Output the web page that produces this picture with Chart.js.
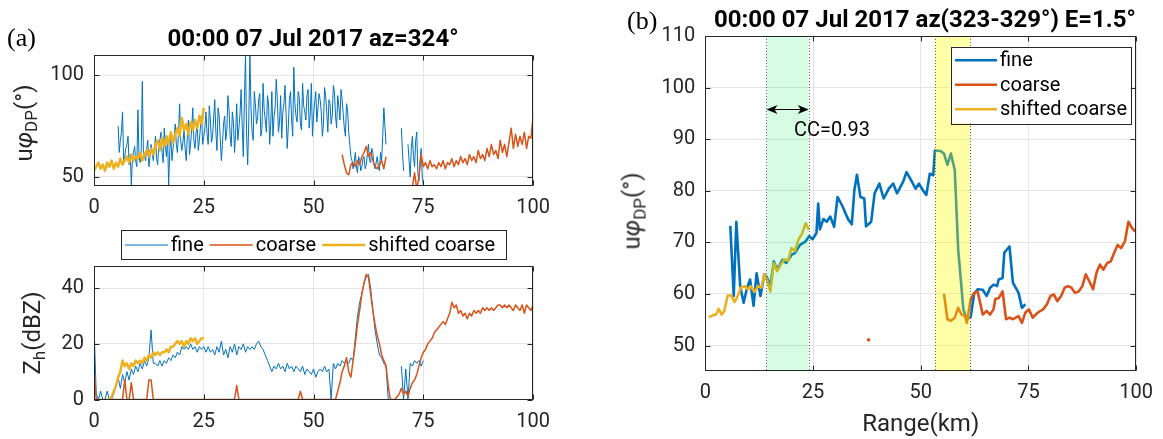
<!DOCTYPE html>
<html lang="en">
<head>
<meta charset="UTF-8">
<title>uPhiDP and Zh, 00:00 07 Jul 2017</title>
<script src="https://cdn.jsdelivr.net/npm/chart.js"></script>
<style>
  body { margin: 0; background: #fff; }
  #wrap { position: relative; width: 1163px; height: 439px; overflow: hidden; font-family: Roboto, sans-serif; }
  canvas { position: absolute; }
  .txt { position: absolute; white-space: nowrap; color: #000; line-height: 1; }
  .ttl { font-weight: bold; font-size: 24px; transform: translate(-50%, -50%); }
  .pan { font-family: 'Liberation Serif', serif; font-size: 26px; }
  .ylab { font-size: 24px; color: #262626; transform: translate(-50%, -50%) rotate(-90deg); }
  .ylab sub { font-size: 17px; }
</style>
</head>
<body>
<div id="wrap">
  <canvas id="cTop" width="560" height="220" style="left:0;top:0"></canvas>
  <canvas id="cZh" width="560" height="219" style="left:0;top:220px"></canvas>
  <canvas id="cB" width="583" height="439" style="left:580px;top:0"></canvas>

  <div class="txt pan" style="left:7px;top:25px">(a)</div>
  <div class="txt ttl" style="left:313px;top:38px">00:00 07 Jul 2017 az=324°</div>
  <div class="txt ylab" style="left:26px;top:123px">u<i>φ</i><sub>DP</sub>(°)</div>
  <div class="txt ylab" style="left:34px;top:333px">Z<sub>h</sub>(dBZ)</div>

  <div class="txt pan" style="left:627px;top:8px">(b)</div>
  <div class="txt ttl" style="left:925px;top:19px">00:00 07 Jul 2017 az(323-329°) E=1.5°</div>
  <div class="txt ylab" style="left:634px;top:211px">u<i>φ</i><sub>DP</sub>(°)</div>
</div>

<script>
// ---- data (a): single-ray profiles on regular range gates ----
const fineTopStart = 5.5, fineTopStep = 0.25;
const fineTop = [
  75, 62, 68, 72, 82, 58, 60, 64, 66, 70,
  56, 61, 46, 59, 62, 65, 58, 55, 83, 60,
  57, 63, 97, 62, 60, 58, 64, 68, 55, 60,
  66, 62, 58, 64, 70, 59, 56, 66, 68, 72,
  62, 57, 74, 65, 60, 70, 46, 63, 70, 58,
  64, 69, 76, 66, 62, 72, 86, 68, 63, 67,
  73, 64, 58, 70, 78, 61, 66, 74, 84, 68,
  64, 72, 76, 63, 68, 75, 80, 66, 70,
  74, 82, 71, 66, 85, 78, 67, 70, 79, 88,
  72, 63, 84, 80, 69, 58, 66, 76, 80, 68,
  73, 90, 83, 70, 65, 82, 77, 62, 71, 86,
  68, 74, 81, 93, 75, 60, 88, 110, 70, 56,
  78, 110, 84, 72, 68, 92, 86, 76, 79, 88,
  91, 70, 74, 96, 83, 78, 72, 90, 86, 66,
  76, 92, 70, 80, 84, 98, 88, 72, 77, 90,
  69, 82, 86, 95, 80, 64, 75, 88, 92, 78,
  70, 104, 86, 80, 77, 92, 89, 76, 73, 96,
  85, 82, 78, 90, 93, 74, 81, 96, 70, 80,
  87, 92, 77, 84, 91, 88, 82, 70, 76, 94,
  90, 82, 72, 88, 86, 76, 80, 95, 92, 80,
  74, 90, 85, 78, 93, 88, 81, 74, 70, 86,
  83, 72, 66, 60,
  58, 54, 57, 62, 55, 52, 60, 58, 53, 55, 59, 60, 54, 56, 61, 66,
  58, 57, 64, 62, 56, 54, 57, 60, 55, 53, 62, 58, 70, 84, 75, 66,
  null, null, null, null, null, null, null, null, null, null, null, null, null,
  74, 62, 53, null, null, null, 66, 58, 50, 64, 70, 60, 55, 68, 72, 52, 48, 58, 64, 50, 46
];

const gateStep = 0.5;

const coarseTopStart = 56.5;
const coarseTop = [
  61, 56, 52, 51, 56, 57, 55, 58, 56, 60, 62, 65, 60, 62, 58, 55, 54, 56, 58, 54, 60,
  null, null, null, null, null, null, null, null, null, null, null,
  45, 52, 44, 50, 61,
  55, 57, 54, 58, 55, 56, 54, 57, 55, 58, 54, 57, 56, 59, 55, 58, 56, 60, 57, 59,
  56, 61, 58, 60, 57, 63, 59, 61, 58, 64, 60, 66, 61, 63, 59, 68, 62, 66, 60, 67,
  74, 64, 71, 65, 70, 66, 72, 64, 70, 69, 80
];

const shiftTopStart = 0;
const shiftTop = [
  53, 55, 57, 54, 56, 53, 57, 55, 58, 54, 57, 55, 59, 56, 58, 60, 57, 61, 58, 60,
  59, 62, 58, 61, 63, 60, 64, 61, 66, 68, 63, 69, 65, 70, 66, 72, 67, 71, 74, 70,
  79, 73, 76, 71, 77, 73, 78, 74, 80, 76, 84
];

const fineZhStart = 0;
const fineZh = [
  27, 2, 0, 3, 0, 0, 3, 0, 0, 2,
  5, 8, 4, 9, 6, 10, 7, 11, 9, 12, 10, 13, 11, 14, 12, 15, 25, 13,
  13, 12, 14, 12, 14, 13, 15, 14, 16, 15, 17, 16, 19,
  18, 19, 18, 20, 18, 19, 17, 19, 18, 19, 17, 19, 17, 18, 16, 19, 17, 21, 16, 18,
  15, 19, 17, 20, 16, 19, 18, 20, 17, 19, 18, 19, 18, 20, 21, 19, 18, 16,
  14, 12, 10, 12, 11, 13, 11, 12, 10, 13, 11, 12, 10, 12, 11, 10, 12, 9, 11, 10,
  9, 11, 8, 10, 11, 10, 12, 10, 11,
  0, 13, 11, 13, 12, 14, 13, 14, 13, 15, 14, 22, 30, 35, 38, 42, 44, 45, 40, 32,
  25, 20, 16, 15, 13, 12, 0,
  null, null, null, null, null,
  12, 0, 11, 0, 13, 12, 14, 13, 14, 12, 14
];

const coarseZhStart = 0;
const coarseZh = [
  11, 0, 0, 0, 0, 0, 0, 0, 0, 0, 0, 0, 0, 0,
  7, 0, 0, 6, 0, 0, 0, 0, 0, 0, 0, 7, 7, 0,
  0, 0, 0, 0, 0, 0, 0, 0, 0, 0, 0, 0, 0, 0, 0, 0, 0, 0, 0, 0,
  0, 0, 0, 0, 0, 0, 0, 0, 0, 0, 0, 0, 0, 0, 0, 0, 0,
  5,
  0, 0, 0, 0, 0, 0, 0, 0, 0, 0, 0, 0, 0, 0, 0, 0, 0, 0, 0, 0,
  0, 0, 0, 0, 0, 0, 0, 0,
  3,
  0, 0, 0, 0, 0, 0, 0, 0, 0, 0, 0, 0, 0, 0, 0, 0,
  3, 6, 10, 12, 15, 10, 8, 14, 20, 27, 32, 38, 42, 45, 44, 38, 32, 27, 23, 20,
  16, 14, 12, 5,
  0, 0, 0, 1, 2, 4, 2, 3, 1, 4, 6, 7, 9, 12, 15, 17, 18, 20, 21, 22,
  24, 25, 26, 27, 28, 27, 29, 31, 35, 33, 34, 31, 32, 30, 31, 29, 31, 30, 32, 31,
  32, 31, 33, 32, 33, 32, 33, 32, 33, 34, 34, 33, 34, 33, 34, 33, 32, 34, 33, 32,
  34, 31, 34, 33, 32, 34
];

const shiftZhStart = 3.5;
const shiftZh = [
  0, 1, 3, 5, 8, 10, 14, 12, 13, 11, 13, 12, 14, 13, 14, 13, 15, 14, 16, 15,
  17, 16, 17, 16, 17, 17, 18, 17, 19, 19, 20, 21, 20, 21, 19, 21, 20, 22, 21, 22,
  20, 21, 22, 22
];

// ---- data (b): azimuth-averaged profiles ----
const fineBKm = [
  5.8, 6.6, 7.2, 8.1, 8.9, 9.7, 10.4, 11.2, 11.9, 12.8, 13.7, 14.3, 15.1, 15.9, 16.7, 17.9, 18.8, 20.0, 20.8, 22.0,
  23.3, 24.1, 24.9, 25.8, 26.2, 26.6, 27.4, 28.2, 29.0, 29.9, 30.7, 31.9, 32.6, 33.2, 34.0, 34.6, 35.2, 36.0, 36.9, 37.3,
  38.5, 39.3, 40.4, 41.4, 42.6, 43.6, 44.5, 45.9, 46.7, 48.0, 48.8, 49.6, 50.5, 51.3, 52.1, 52.9, 53.3, 54.6, 55.4, 56.2,
  57.0, 57.9, 58.7, 59.9, 60.7, 61.6, 62.4, 63.2, 64.4, 65.3, 66.1, 66.9, 67.7, 68.1, 69.0, 69.4, 70.2, 70.6, 71.4, 72.7,
  73.5, 74.3
];
const fineB = [
  73.2, 59.6, 74.0, 61.5, 58.3, 61.2, 62.8, 57.7, 64.0, 59.6, 63.8, 63.2, 61.5, 66.3, 64.7, 66.6, 66.0, 67.6, 67.9, 69.5,
  70.2, 71.2, 70.6, 71.8, 77.5, 72.5, 74.5, 74.0, 75.0, 73.0, 78.8, 76.9, 75.5, 74.4, 73.5, 80.1, 83.1, 78.8, 78.5, 73.1,
  74.0, 79.5, 81.4, 78.5, 80.4, 81.4, 79.5, 81.7, 83.6, 81.7, 80.4, 81.4, 80.1, 79.2, 83.3, 83.0, 87.8, 87.7, 87.2, 85.0,
  87.2, 84.0, 68.6, 57.0, 55.1, 55.5, 60.0, 60.9, 60.8, 59.6, 61.2, 61.8, 61.5, 62.8, 63.1, 68.0, 68.8, 69.2, 62.2, 60.2,
  57.3, 58.0
];

const coarseBKm = [
  55.4, 56.2, 57.0, 57.9, 58.7, 59.5, 60.3, 60.7, 61.6, 62.4, 63.2, 64.4, 65.3, 66.1, 66.9, 67.3, 68.1, 69.0, 69.8, 70.6,
  71.4, 72.7, 73.5, 74.3, 75.1, 76.0, 77.2, 78.4, 79.3, 80.1, 80.9, 81.7, 82.6, 83.4, 84.2, 85.0, 85.8, 86.7, 87.5, 88.3,
  89.1, 90.0, 90.8, 91.6, 92.4, 93.3, 94.1, 94.9, 95.7, 96.5, 97.4, 98.2, 99.0, 99.8
];
const coarseB = [
  60.0, 55.1, 54.8, 55.4, 57.3, 56.0, 55.7, 54.4, 59.0, 60.2, 60.5, 56.0, 56.7, 56.0, 57.0, 59.0, 59.2, 60.5, 55.1, 55.4,
  55.1, 55.7, 54.4, 56.4, 57.0, 55.4, 56.4, 57.0, 58.0, 59.6, 59.9, 58.6, 59.6, 61.2, 61.5, 61.2, 60.2, 60.5, 61.5, 63.8,
  62.5, 60.9, 64.1, 65.7, 64.7, 66.0, 66.3, 68.0, 69.5, 68.9, 70.2, 74.0, 72.8, 72.1
];
const coarseDotKm = [37.9];
const coarseDot = [51.1];

const shiftBKm = [
  0.8, 1.6, 2.5, 3.1, 3.8, 4.4, 5.2, 6.0, 6.8, 7.7, 8.2, 9.1, 9.9, 10.5, 11.4, 12.2, 13.0, 13.7, 14.4, 15.1,
  15.9, 16.7, 17.5, 18.4, 19.2, 20.0, 20.8, 21.6, 22.5, 23.3, 24.1
];
const shiftB = [
  55.5, 55.8, 56.0, 57.1, 56.0, 56.7, 59.7, 59.7, 58.4, 59.9, 61.2, 61.5, 60.9, 61.5, 60.4, 61.5, 61.2, 63.8, 62.5, 60.5,
  66.0, 64.4, 65.7, 66.7, 66.4, 68.9, 68.3, 70.5, 71.8, 73.7, 72.4
];

// matching window, shift window and correlation
const bands = [[14.2, 24.0], [53.3, 61.5]];
const arrowKm = [14.2, 24.0];
const arrowVal = 95.9;
const ccText = 'CC=0.93';
const ccAt = [20.6, 91.6];

// ticks
const rangeTicks = [0, 25, 50, 75, 100];
const phiTopTicks = [50, 100];
const zhTicks = [0, 20, 40];
const phiBTicks = [50, 60, 70, 80, 90, 100, 110];

// ---- styling ----
const FINE = '#0072BD', COARSE = '#D95319', SHIFT = '#EDB120';
const AXC = '#262626', GRID = '#e4e4e4';
Chart.defaults.font.family = 'Roboto';
Chart.defaults.color = AXC;

const onGates = (start, vals, step = gateStep) => vals.map((v, i) => ({ x: start + i * step, y: v }));
const pairs = (kms, vals) => vals.map((v, i) => ({ x: kms[i], y: v }));

function line(label, data, color, width, order) {
  return { label, data, borderColor: color, backgroundColor: color, borderWidth: width,
           pointRadius: 0, fill: false, tension: 0, order, borderJoinStyle: 'round' };
}

function axis(ticks, min, max, fit) {
  return {
    type: 'linear', min, max,
    afterBuildTicks: s => { s.ticks = ticks.map(v => ({ value: v })); },
    afterFit: fit,
    grid: { color: GRID, drawTicks: false },
    border: { display: false },
    ticks: { font: { size: 20 }, color: AXC, padding: 10, maxRotation: 0, autoSkip: false }
  };
}

const framePlugin = {
  id: 'frame',
  afterDraw(chart) {
    const { ctx, chartArea: a, scales: { x, y } } = chart;
    ctx.save();
    ctx.strokeStyle = AXC;
    ctx.lineWidth = 1;
    const L = Math.round(a.left) + 0.5, R = Math.round(a.right) - 0.5;
    const T = Math.round(a.top) + 0.5, B = Math.round(a.bottom) - 0.5;
    ctx.strokeRect(L, T, R - L, B - T);
    ctx.beginPath();
    x.ticks.forEach(t => {
      const p = Math.round(x.getPixelForValue(t.value)) + 0.5;
      ctx.moveTo(p, B); ctx.lineTo(p, B - 5);
      ctx.moveTo(p, T); ctx.lineTo(p, T + 5);
    });
    y.ticks.forEach(t => {
      const p = Math.round(y.getPixelForValue(t.value)) + 0.5;
      ctx.moveTo(L, p); ctx.lineTo(L + 5, p);
      ctx.moveTo(R, p); ctx.lineTo(R - 5, p);
    });
    ctx.stroke();
    ctx.restore();
  }
};

const boxLegend = {
  id: 'boxLegend',
  afterDraw(chart, args, o) {
    if (!o || !o.w) return;
    const ctx = chart.ctx;
    const items = chart.data.datasets.filter(d => !d.noLegend);
    ctx.save();
    ctx.fillStyle = '#fff';
    ctx.fillRect(o.x, o.y, o.w, o.h);
    ctx.strokeStyle = AXC;
    ctx.lineWidth = 1;
    ctx.strokeRect(Math.round(o.x) + 0.5, Math.round(o.y) + 0.5, Math.round(o.w), Math.round(o.h));
    ctx.font = '20px Roboto';
    ctx.textBaseline = 'middle';
    let cx = o.x + o.pad, cy = o.y + o.first;
    items.forEach(d => {
      ctx.strokeStyle = d.borderColor;
      ctx.lineWidth = o.lw || d.borderWidth;
      ctx.beginPath(); ctx.moveTo(cx, cy); ctx.lineTo(cx + o.len, cy); ctx.stroke();
      ctx.fillStyle = '#000';
      ctx.fillText(d.label, cx + o.len + 3, cy + 1);
      if (o.horizontal) cx += o.len + 3 + ctx.measureText(d.label).width + o.gap;
      else cy += o.step;
    });
    ctx.restore();
  }
};

const bandPlugin = {
  id: 'bands',
  afterDatasetsDraw(chart) {
    const { ctx, chartArea: a, scales: { x, y } } = chart;
    const fills = ['rgba(0,236,86,0.16)', 'rgba(255,255,0,0.34)'];
    ctx.save();
    bands.forEach((b, i) => {
      const l = x.getPixelForValue(b[0]), r = x.getPixelForValue(b[1]);
      ctx.fillStyle = fills[i];
      ctx.fillRect(l, a.top, r - l, a.height);
      ctx.setLineDash([1, 2]);
      ctx.strokeStyle = '#666';
      ctx.lineWidth = 1;
      ctx.beginPath();
      [l, r].forEach(p => { ctx.moveTo(Math.round(p) + 0.5, a.top); ctx.lineTo(Math.round(p) + 0.5, a.bottom); });
      ctx.stroke();
      ctx.setLineDash([]);
    });
    // double arrow over the matching window
    const x0 = x.getPixelForValue(arrowKm[0]), x1 = x.getPixelForValue(arrowKm[1]);
    const ya = Math.round(y.getPixelForValue(arrowVal)) + 0.5;
    ctx.strokeStyle = '#000';
    ctx.fillStyle = '#000';
    ctx.lineWidth = 1;
    ctx.beginPath(); ctx.moveTo(x0 + 4, ya); ctx.lineTo(x1 - 4, ya); ctx.stroke();
    [[x0, 1], [x1, -1]].forEach(([p, s]) => {
      ctx.beginPath();
      ctx.moveTo(p, ya);
      ctx.lineTo(p + s * 11, ya - 4.5);
      ctx.lineTo(p + s * 8, ya);
      ctx.lineTo(p + s * 11, ya + 4.5);
      ctx.closePath();
      ctx.fill();
    });
    ctx.font = '20px Roboto';
    ctx.textBaseline = 'middle';
    ctx.fillText(ccText, x.getPixelForValue(ccAt[0]), y.getPixelForValue(ccAt[1]));
    ctx.restore();
  }
};

const base = {
  responsive: false, animation: false, devicePixelRatio: 1,
  events: [],
  plugins: { legend: { display: false }, tooltip: { enabled: false } }
};

// (a) top: uPhiDP
new Chart(document.getElementById('cTop'), {
  type: 'line',
  data: { datasets: [
    line('fine', onGates(fineTopStart, fineTop, fineTopStep), FINE, 1, 2),
    line('coarse', onGates(coarseTopStart, coarseTop), COARSE, 1.5, 1),
    line('shifted coarse', onGates(shiftTopStart, shiftTop), SHIFT, 2.5, 0)
  ] },
  options: { ...base,
    layout: { padding: { left: 0, top: 55, right: 17, bottom: 0 } },
    scales: {
      x: axis(rangeTicks, 0, 100, s => { s.height = 34; }),
      y: axis(phiTopTicks, 45.5, 110, s => { s.width = 94; })
    }
  },
  plugins: [framePlugin]
});

// (a) bottom: Zh
new Chart(document.getElementById('cZh'), {
  type: 'line',
  data: { datasets: [
    line('fine', onGates(fineZhStart, fineZh), FINE, 1, 2),
    line('coarse', onGates(coarseZhStart, coarseZh), COARSE, 1.5, 1),
    line('shifted coarse', onGates(shiftZhStart, shiftZh), SHIFT, 2.5, 0)
  ] },
  options: { ...base,
    plugins: { ...base.plugins,
      boxLegend: { horizontal: true, x: 120.5, y: 10, w: 385, h: 29, pad: 4.5, first: 15, len: 43, gap: 6 } },
    layout: { padding: { left: 0, top: 46, right: 17, bottom: 0 } },
    scales: {
      x: axis(rangeTicks, 0, 100, s => { s.height = 39.5; }),
      y: axis(zhTicks, 0, 48, s => { s.width = 94; })
    }
  },
  plugins: [framePlugin, boxLegend]
});

// (b): azimuth-averaged uPhiDP
const xB = axis(rangeTicks, 0, 100, s => { s.height = 67.7; });
xB.title = { display: true, text: 'Range(km)', font: { size: 24 }, color: AXC, padding: { top: 0, bottom: 0 } };
const dot = { label: 'coarse', data: pairs(coarseDotKm, coarseDot), showLine: false, pointRadius: 1.8,
              pointBackgroundColor: COARSE, pointBorderWidth: 0, borderColor: COARSE, noLegend: true, order: 1 };

new Chart(document.getElementById('cB'), {
  type: 'line',
  data: { datasets: [
    line('fine', pairs(fineBKm, fineB), FINE, 2.6, 2),
    line('coarse', pairs(coarseBKm, coarseB), COARSE, 2.6, 1),
    line('shifted coarse', pairs(shiftBKm, shiftB), SHIFT, 2.6, 0),
    dot
  ] },
  options: { ...base,
    plugins: { ...base.plugins,
      boxLegend: { horizontal: false, x: 371, y: 46.7, w: 179.7, h: 76.6, pad: 4, first: 13.5, step: 24.5, len: 42, lw: 2.6 } },
    layout: { padding: { left: 0, top: 36, right: 22.3, bottom: 0 } },
    scales: {
      x: xB,
      y: axis(phiBTicks, 45, 110, s => { s.width = 125.3; })
    }
  },
  plugins: [bandPlugin, framePlugin, boxLegend]
});
</script>
</body>
</html>
